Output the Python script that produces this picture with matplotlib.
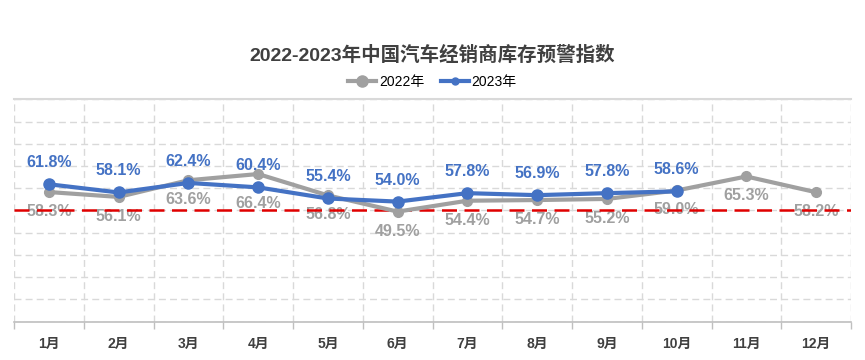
import matplotlib
matplotlib.use("Agg")
import matplotlib.pyplot as plt
from matplotlib.lines import Line2D

plt.rcParams['font.family'] = ['Liberation Sans', 'Noto Sans CJK SC', 'DejaVu Sans']

months = ["1月", "2月", "3月", "4月", "5月", "6月", "7月", "8月", "9月", "10月", "11月", "12月"]
values_2022 = [58.3, 56.1, 63.6, 66.4, 56.8, 49.5, 54.4, 54.7, 55.2, 59.0, 65.3, 58.2]
values_2023 = [61.8, 58.1, 62.4, 60.4, 55.4, 54.0, 57.8, 56.9, 57.8, 58.6]
warning_line = 50
title = "2022-2023年中国汽车经销商库存预警指数"

BLUE = "#4472C4"
GRAY = "#A0A0A0"
GRID = "#D9D9D9"

# extra vertical label offset (points) for individual 2022 labels
gray_label_extra = {3: -7}

fig = plt.figure(figsize=(8.65, 3.6), dpi=100)
ax = fig.add_axes([14/865, 1-321.7/360, (851-14)/865, (321.7-99.3)/360])

x22 = list(range(len(values_2022)))
x23 = list(range(len(values_2023)))

ax.set_xlim(-0.5, len(months) - 0.5)
ax.set_ylim(0, 100)

ax.set_yticks(range(0, 101, 10))
ax.set_xticks(range(len(months)))
ax.set_xticks([i - 0.5 for i in range(len(months) + 1)], minor=True)
ax.yaxis.grid(True, color=GRID, linestyle=(0, (5, 3)), linewidth=1)
ax.xaxis.grid(True, which='minor', color=GRID, linestyle=(0, (5, 3)), linewidth=1)
ax.xaxis.grid(False, which='major')
ax.set_axisbelow(True)
ax.tick_params(axis='y', left=False, labelleft=False)
ax.tick_params(axis='x', which='major', length=0, pad=11, labelsize=10, labelcolor="#404040")
ax.tick_params(axis='x', which='minor', length=5, color="#BFBFBF", width=1)
ax.set_xticklabels(months, fontweight='bold')

for s in ['left', 'right']:
    ax.spines[s].set_visible(False)
ax.spines['top'].set_color(GRID)
ax.spines['top'].set_linewidth(1.5)
ax.spines['bottom'].set_color("#BFBFBF")
ax.spines['bottom'].set_linewidth(1.2)

ax.plot(x22, values_2022, color=GRAY, linewidth=3, marker='o', markersize=7, zorder=3)
ax.plot(x23, values_2023, color=BLUE, linewidth=3, marker='o', markersize=8, zorder=4)

for x, v in zip(x22, values_2022):
    dy = -14 + gray_label_extra.get(x, 0)
    ax.annotate(f"{v:.1f}%", (x, v), xytext=(0, dy), textcoords='offset points',
                ha='center', va='center', color=GRAY, fontsize=11.5, fontweight='bold',
                zorder=2)
for x, v in zip(x23, values_2023):
    ax.annotate(f"{v:.1f}%", (x, v), xytext=(0, 15.5), textcoords='offset points',
                ha='center', va='center', color=BLUE, fontsize=11.5, fontweight='bold',
                zorder=5)

ax.axhline(warning_line, color="#E00000", linestyle=(0, (6, 3)), linewidth=1.8, zorder=2.5)

fig.text(0.5, 1-55/360, title, ha='center', va='center', fontsize=14,
         fontweight='bold', color="#404040")

handles = [Line2D([], [], color=GRAY, linewidth=3, marker='o', markersize=8),
           Line2D([], [], color=BLUE, linewidth=3, marker='o', markersize=5)]
fig.legend(handles, ["2022年", "2023年"], loc='center', bbox_to_anchor=(0.5, 1-82/360),
           ncol=2, frameon=False, fontsize=10, handlelength=2.0, columnspacing=1.2,
           handletextpad=0.2)

fig.savefig("out.png", dpi=100)
